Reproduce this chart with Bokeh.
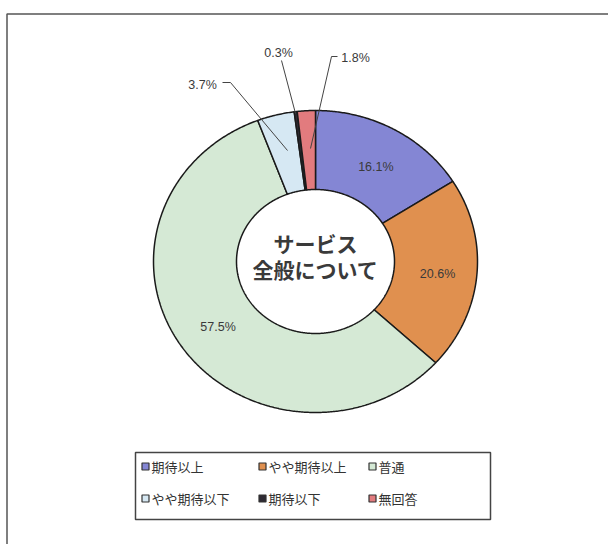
import numpy as np
from bokeh.plotting import figure
from bokeh.models import Range1d, ColumnDataSource
from bokeh.core.properties import value
from bokeh.embed import file_html
from bokeh.resources import INLINE

# ---- data ----
categories = ["期待以上", "やや期待以上", "普通", "やや期待以下", "期待以下", "無回答"]
shares = [16.1, 20.6, 57.5, 3.7, 0.3, 1.8]
share_labels = ["16.1%", "20.6%", "57.5%", "3.7%", "0.3%", "1.8%"]
colors = ["#8486d4", "#e0904f", "#d5e9d5", "#d6e8f3", "#2e2a33", "#e27b7e"]
center_title = ["サービス", "全般について"]

# ---- layout (picture-pixel data space) ----
W, H = 608, 544
p = figure(width=W, height=H, output_backend="svg", toolbar_location=None,
           x_range=Range1d(0, W), y_range=Range1d(H, 0),
           min_border=0)
p.axis.visible = False
p.grid.visible = False
p.outline_line_color = None
p.background_fill_color = "white"
p.border_fill_color = "white"

# outer frame (left and top visible)
p.line(x=[6.5, 6.5, 700], y=[700, 13.5, 13.5], line_color="#555555", line_width=1.5)

cx, cy = 315, 261
rxo, ryo = 162, 151
rxi, ryi = 79, 72

total = sum(shares)
fr = np.array(shares) / total
ends = np.cumsum(fr) * 2 * np.pi
starts = ends - fr * 2 * np.pi

xs, ys = [], []
for a0, a1 in zip(starts, ends):
    t = np.linspace(a0, a1, max(4, int((a1 - a0) * 120)))
    ox = cx + rxo * np.sin(t); oy = cy - ryo * np.cos(t)
    ix = cx + rxi * np.sin(t[::-1]); iy = cy - ryi * np.cos(t[::-1])
    xs.append(list(np.concatenate([ox, ix])))
    ys.append(list(np.concatenate([oy, iy])))

src = ColumnDataSource(dict(xs=xs, ys=ys, color=colors, cat=categories))
p.patches("xs", "ys", source=src, fill_color="color", line_color="#1a1a1a", line_width=1.5)

# inner labels for large slices
mids = (starts + ends) / 2
inner = [i for i in range(len(shares)) if shares[i] > 10]
lx = [cx + (rxo + rxi) / 2 * np.sin(mids[i]) + 2 for i in inner]
ly = [cy - (ryo + ryi) / 2 * np.cos(mids[i]) + 3 for i in inner]
p.text(x=lx, y=ly, text=[share_labels[i] for i in inner], text_align="center",
       text_baseline="middle", text_font=value("Liberation Sans"), text_font_size="12.5px",
       text_color="#3a3a3a")

# outside labels with leaders
out_pos = {3: (202, 84), 4: (278, 52), 5: (355, 57)}
p.text(x=[out_pos[i][0] for i in out_pos], y=[out_pos[i][1] for i in out_pos],
       text=[share_labels[i] for i in out_pos], text_align="center", text_baseline="middle",
       text_font=value("Liberation Sans"), text_font_size="12.5px", text_color="#3a3a3a")
p.multi_line(xs=[[222, 230, 287], [281, 295], [337, 331, 310]],
             ys=[[82, 82, 150], [60, 113], [56, 56, 148]],
             line_color="#444444", line_width=1)

# center title
p.text(x=[cx, cx], y=[242, 268], text=center_title, text_align="center", text_baseline="middle",
       text_font=value("Noto Sans CJK JP"), text_font_size="21px", text_font_style="bold",
       text_color="#3a3a3a")

# legend box
p.quad(left=[135], right=[490], top=[452], bottom=[519], fill_color=None,
       line_color="#444444", line_width=1.5)
leg_x = [145, 262, 372, 145, 262, 372]
leg_y = [466, 466, 466, 498, 498, 498]
p.scatter(x=leg_x, y=leg_y, marker="square", size=7, fill_color=colors,
          line_color="#333333", line_width=1.2)
p.text(x=[x + 6 for x in leg_x], y=leg_y, text=categories, text_align="left",
       text_baseline="middle", text_font=value("Noto Sans CJK JP"), text_font_size="13px",
       text_color="#333333")

open("out.html", "w").write(file_html(p, INLINE))
